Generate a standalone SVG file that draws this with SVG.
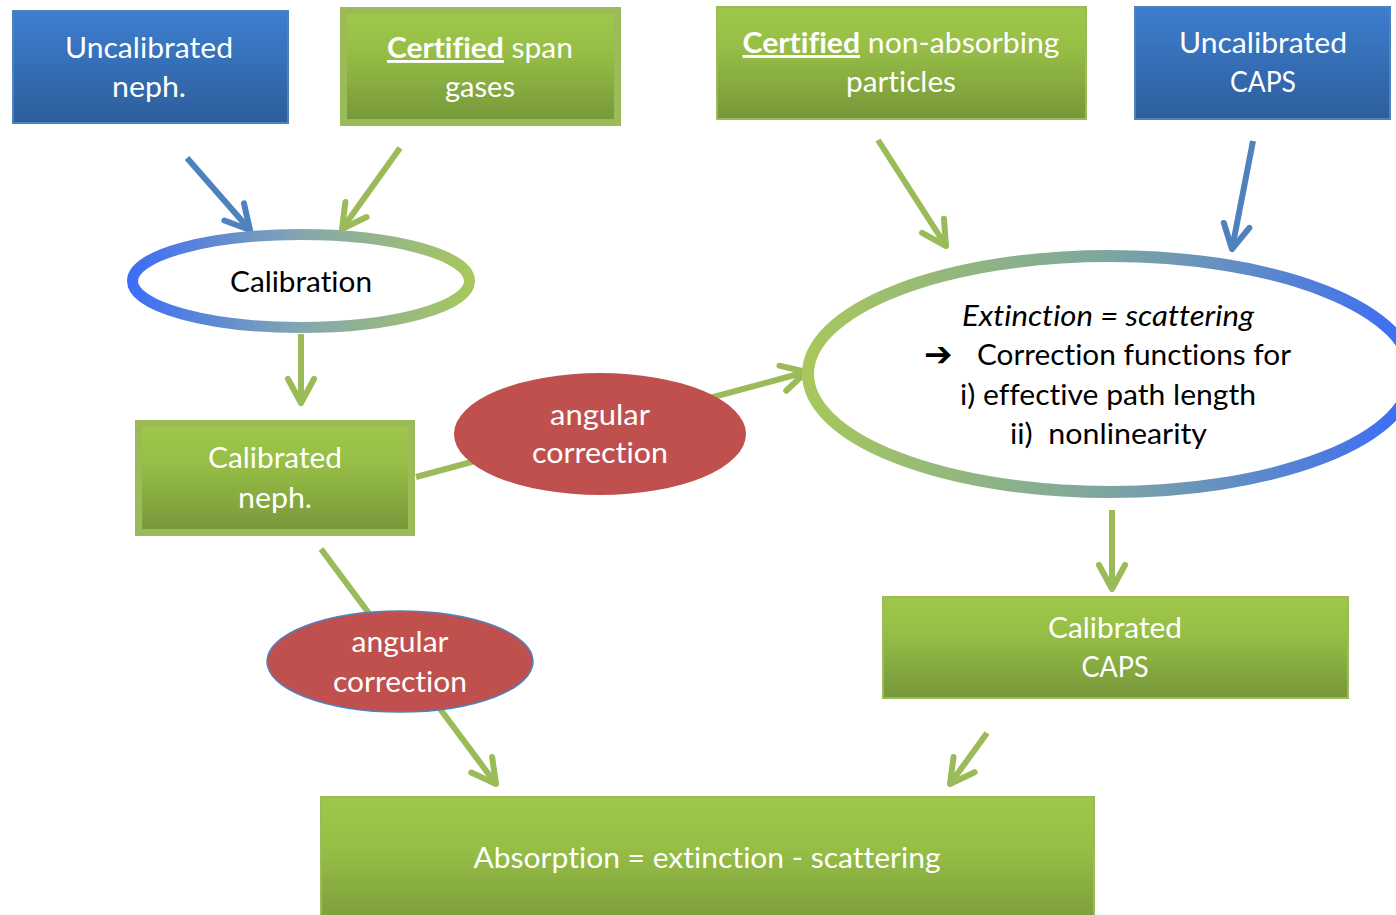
<svg xmlns="http://www.w3.org/2000/svg" width="1396" height="915" viewBox="0 0 1396 915">
<defs>
<style>
.t{font-family:Lato,"Open Sans","Liberation Sans",sans-serif;font-size:29px;text-anchor:middle;fill:#fff;font-variant-ligatures:none;font-feature-settings:"liga" 0,"dlig" 0}
.k{fill:#000}
.g{stroke:#9bbb59;stroke-width:6;fill:none}
.b{stroke:#4f81bd;stroke-width:6;fill:none}
.thin{stroke:#9bbb59;stroke-width:2}
.thick{stroke:#9bbb59;stroke-width:7}
.bt{stroke:#4f81bd;stroke-width:2}
</style>
<linearGradient id="gg" x1="0" y1="0" x2="0" y2="1">
<stop offset="0" stop-color="#9ec74b"/><stop offset="0.35" stop-color="#97bf46"/><stop offset="1" stop-color="#76973a"/>
</linearGradient>
<linearGradient id="bg" x1="0" y1="0" x2="0" y2="1">
<stop offset="0" stop-color="#3d7ecf"/><stop offset="1" stop-color="#2d5e9b"/>
</linearGradient>
<linearGradient id="cal" gradientUnits="userSpaceOnUse" x1="127" y1="0" x2="475" y2="0">
<stop offset="0" stop-color="#3b6cf7"/><stop offset="0.5" stop-color="#84a6b0"/><stop offset="1" stop-color="#a8c85c"/>
</linearGradient>
<linearGradient id="ext" gradientUnits="userSpaceOnUse" x1="803" y1="0" x2="1410" y2="0">
<stop offset="0" stop-color="#a8c85c"/><stop offset="0.5" stop-color="#7ea6a0"/><stop offset="1" stop-color="#3b6cf7"/>
</linearGradient>
<marker id="ag" markerUnits="userSpaceOnUse" orient="auto" overflow="visible" markerWidth="1" markerHeight="1">
<path d="M-24,-13 L0,0 L-24,13" fill="none" stroke="#9bbb59" stroke-width="6" stroke-linecap="round" stroke-linejoin="round"/>
</marker>
<marker id="ab" markerUnits="userSpaceOnUse" orient="auto" overflow="visible" markerWidth="1" markerHeight="1">
<path d="M-24,-13 L0,0 L-24,13" fill="none" stroke="#4f81bd" stroke-width="6" stroke-linecap="round" stroke-linejoin="round"/>
</marker>
</defs>
<rect width="1396" height="915" fill="#fff"/>

<g id="connectors">
<line class="b" x1="187" y1="158" x2="250" y2="230" marker-end="url(#ab)"/>
<line class="g" x1="400" y1="148" x2="342" y2="229" marker-end="url(#ag)"/>
<line class="g" x1="301" y1="334" x2="301" y2="403" marker-end="url(#ag)"/>
<line class="g" x1="416" y1="477" x2="806" y2="372" marker-end="url(#ag)"/>
<line class="g" x1="878" y1="140" x2="946" y2="246" marker-end="url(#ag)"/>
<line class="b" x1="1253" y1="141" x2="1232" y2="249" marker-end="url(#ab)"/>
<line class="g" x1="1112" y1="510" x2="1112" y2="589" marker-end="url(#ag)"/>
<line class="g" x1="321" y1="549" x2="496" y2="784" marker-end="url(#ag)"/>
<line class="g" x1="987" y1="733" x2="950" y2="784" marker-end="url(#ag)"/>
</g>

<g id="uncal-neph">
<rect class="bt" x="13" y="11" width="275" height="112" fill="url(#bg)"/>
<text class="t" x="149" y="58" textLength="168" lengthAdjust="spacingAndGlyphs">Uncalibrated</text>
<text class="t" x="149" y="97" textLength="74" lengthAdjust="spacingAndGlyphs">neph.</text>
</g>

<g id="span-gases">
<rect class="thick" x="343.5" y="10.5" width="274" height="112" fill="url(#gg)"/>
<text class="t" x="480" y="58" textLength="186" lengthAdjust="spacingAndGlyphs"><tspan font-weight="bold" text-decoration="underline">Certified</tspan> span</text>
<text class="t" x="480" y="97" textLength="70" lengthAdjust="spacingAndGlyphs">gases</text>
</g>

<g id="particles">
<rect class="thin" x="717" y="7" width="369" height="112" fill="url(#gg)"/>
<text class="t" x="901" y="53" textLength="317" lengthAdjust="spacingAndGlyphs"><tspan font-weight="bold" text-decoration="underline">Certified</tspan> non-absorbing</text>
<text class="t" x="901" y="92" textLength="110" lengthAdjust="spacingAndGlyphs">particles</text>
</g>

<g id="uncal-caps">
<rect class="bt" x="1135" y="7" width="255" height="112" fill="url(#bg)"/>
<text class="t" x="1263" y="53" textLength="168" lengthAdjust="spacingAndGlyphs">Uncalibrated</text>
<text class="t" x="1263" y="92" textLength="66" lengthAdjust="spacingAndGlyphs">CAPS</text>
</g>

<g id="calibration">
<ellipse cx="301" cy="281" rx="168.5" ry="46.5" fill="#fff" stroke="url(#cal)" stroke-width="11"/>
<text class="t k" x="301" y="292" textLength="142" lengthAdjust="spacingAndGlyphs">Calibration</text>
</g>

<g id="extinction">
<ellipse cx="1110" cy="374" rx="302" ry="118" fill="#fff" stroke="url(#ext)" stroke-width="12"/>
<text class="t k" x="1108" y="326" font-style="italic" textLength="292" lengthAdjust="spacingAndGlyphs">Extinction = scattering</text>
<text x="924" y="366" font-family="'DejaVu Sans',sans-serif" font-size="34" font-weight="bold" fill="#000">➔</text>
<text class="t k" x="977" y="365" style="text-anchor:start" textLength="314" lengthAdjust="spacingAndGlyphs">Correction functions for</text>
<text class="t k" x="1108" y="405" textLength="296" lengthAdjust="spacingAndGlyphs">i) effective path length</text>
<text class="t k" x="1010" y="444" style="text-anchor:start;white-space:pre" textLength="197" lengthAdjust="spacingAndGlyphs">ii)  nonlinearity</text>
</g>

<g id="cal-neph">
<rect class="thick" x="138.5" y="423.5" width="273" height="109" fill="url(#gg)"/>
<text class="t" x="275" y="468" textLength="134" lengthAdjust="spacingAndGlyphs">Calibrated</text>
<text class="t" x="275" y="508" textLength="74" lengthAdjust="spacingAndGlyphs">neph.</text>
</g>

<g id="angular1">
<ellipse cx="600" cy="434" rx="146" ry="61" fill="#c0504d"/>
<text class="t" x="600" y="425" textLength="100" lengthAdjust="spacingAndGlyphs">angular</text>
<text class="t" x="600" y="463" textLength="136" lengthAdjust="spacingAndGlyphs">correction</text>
</g>

<g id="angular2">
<ellipse cx="400" cy="661.5" rx="133" ry="50.5" fill="#c0504d" stroke="#4f81bd" stroke-width="1.5"/>
<text class="t" x="400" y="652" textLength="97" lengthAdjust="spacingAndGlyphs">angular</text>
<text class="t" x="400" y="692" textLength="134" lengthAdjust="spacingAndGlyphs">correction</text>
</g>

<g id="cal-caps">
<rect class="thin" x="883" y="597" width="465" height="101" fill="url(#gg)"/>
<text class="t" x="1115" y="638" textLength="134" lengthAdjust="spacingAndGlyphs">Calibrated</text>
<text class="t" x="1115" y="677" textLength="67" lengthAdjust="spacingAndGlyphs">CAPS</text>
</g>

<g id="absorption">
<rect class="thin" x="321" y="797" width="773" height="140" fill="url(#gg)"/>
<text class="t" x="707" y="868" textLength="467" lengthAdjust="spacingAndGlyphs">Absorption = extinction - scattering</text>
</g>
</svg>
